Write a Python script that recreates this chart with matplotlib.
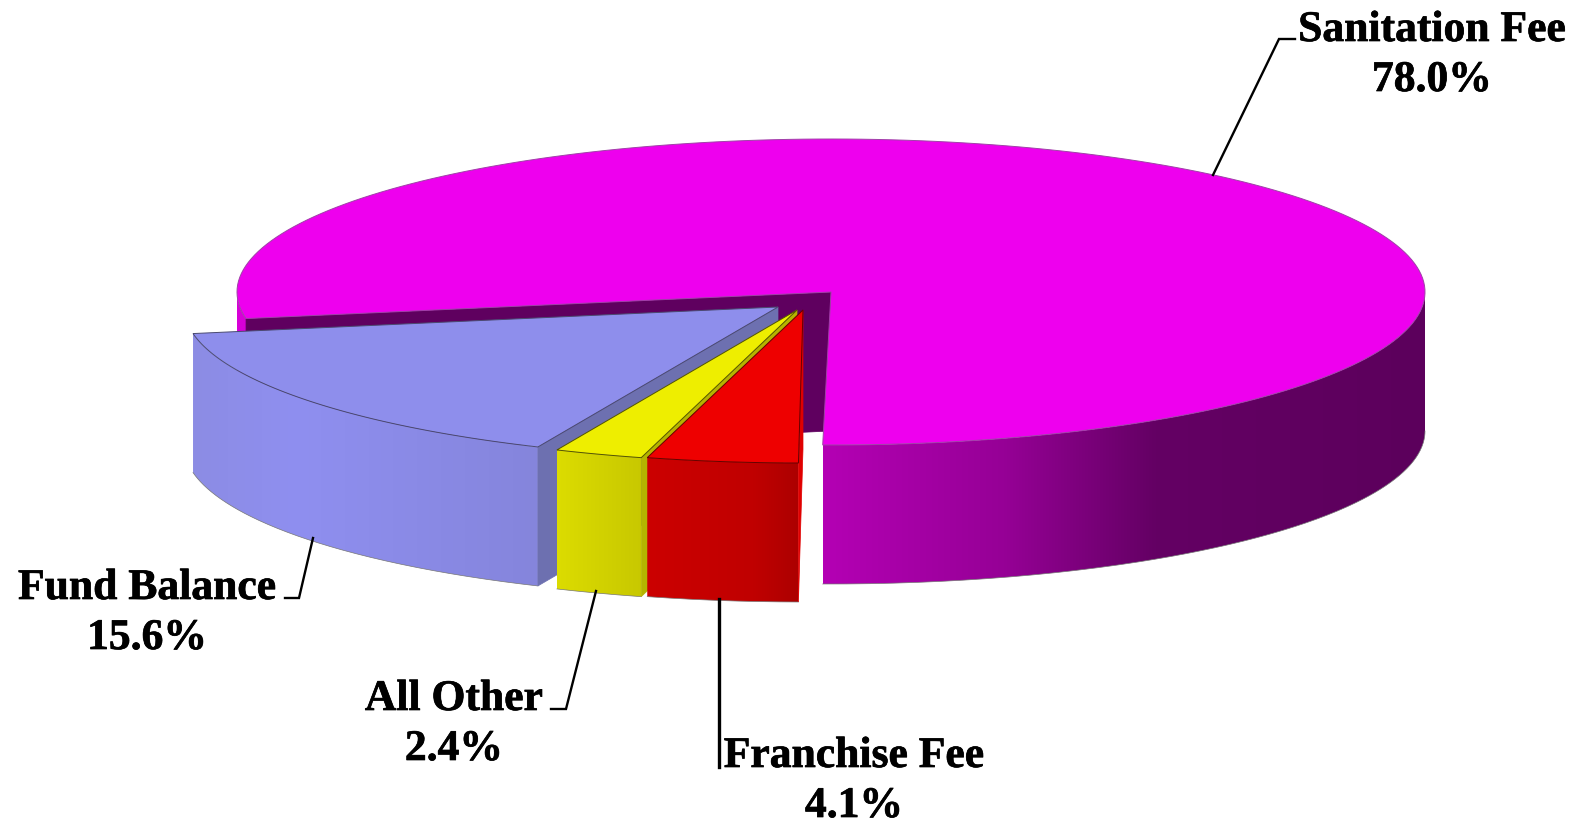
"""Exploded 3D-look pie of revenue shares, drawn by hand on a pixel-sized axes."""
import numpy as np
import matplotlib
matplotlib.use("Agg")
import matplotlib.pyplot as plt
import matplotlib.patheffects as pe
from matplotlib.colors import LinearSegmentedColormap
from matplotlib.patches import Polygon

categories = ["Sanitation Fee", "Fund Balance", "All Other", "Franchise Fee"]
shares = [78.0, 15.6, 2.4, 4.1]
share_labels = ["78.0%", "15.6%", "2.4%", "4.1%"]

# pie projection, in figure pixels
W, H = 1573, 821
RX, RY, DEPTH = 594, 153, 139
START = -90.8
APEX = [(831, 292), (778, 307), (797, 310), (803, 310)]

TOP = ["#ee00ee", "#8e8eec", "#eeee00", "#ee0000"]
FACE = ["#5f005f", "#6d70b0", "#b4b400", "#e00000"]
EDGE = ["#a040a8", "#4a4a70", "#555500", "#660000"]
SIDE = [
    [(0.0, "#b400b4"), (0.3, "#960096"), (0.55, "#640064"), (1.0, "#5c005c")],
    [(0.0, "#8c8ce4"), (0.3, "#8f8ff0"), (1.0, "#8585dc")],
    [(0.0, "#dcdc00"), (1.0, "#c8c800")],
    [(0.0, "#cc0000"), (0.7, "#c00000"), (1.0, "#ac0000")],
]

LABEL_POS = [(1432, 41, 91), (147, 599, 649), (454, 710, 760), (854, 767, 817)]
LEADERS = [
    ([1213, 1279, 1295], [175, 39, 39]),
    ([313, 299, 285], [538, 598, 598]),
    ([596, 566, 551], [591, 709, 709]),
    ([719, 719], [599, 767]),
]


def rim(apex, t0, t1, n=200):
    t = np.radians(np.linspace(t0, t1, n))
    return np.column_stack([apex[0] + RX * np.cos(t), apex[1] - RY * np.sin(t)])


def gradient_side(ax, pts, stops, z):
    cmap = LinearSegmentedColormap.from_list("side", stops)
    x0, x1 = pts[:, 0].min(), pts[:, 0].max()
    y0, y1 = pts[:, 1].min(), pts[:, 1].max()
    img = ax.imshow(np.linspace(0, 1, 256)[None, :], cmap=cmap, aspect="auto",
                    extent=(x0, x1, y1, y0), interpolation="bilinear", zorder=z)
    img.set_clip_path(Polygon(pts, closed=True, transform=ax.transData))


def outer_side(ax, apex, t0, t1, stops, z):
    arc = rim(apex, t0, t1)
    pts = np.vstack([arc, arc[::-1] + [0, DEPTH]])
    gradient_side(ax, pts, stops, z)
    ax.plot(arc[:, 0], arc[:, 1] + DEPTH, color="#777777", lw=0.5, zorder=z)


fig = plt.figure(figsize=(W / 100, H / 100), dpi=100)
ax = fig.add_axes([0, 0, 1, 1])
ax.set_xlim(0, W)
ax.set_ylim(H, 0)
ax.axis("off")

angles = START + np.cumsum([0] + [s * 3.6 for s in shares])

for i, name in enumerate(categories):
    a0, a1 = angles[i], angles[i + 1]
    apex = APEX[i]
    end = rim(apex, a1, a1, 1)[0]
    z = 10 * (i + 1)

    # curved outer wall, only the part turned to the front
    if i == 0:
        outer_side(ax, apex, a0, 0, SIDE[i], z)
        outer_side(ax, apex, 180, a1, [(0, "#d800d8"), (1, "#d800d8")], z)
    else:
        outer_side(ax, apex, a0, a1, SIDE[i], z)

    # cut wall on the side that faces the viewer
    wall = [apex, end, end + [0, DEPTH], (apex[0], apex[1] + DEPTH)]
    ax.add_patch(Polygon(wall, closed=True, fc=FACE[i], ec=FACE[i], lw=0.5, zorder=z + 1))

    top = np.vstack([[apex], rim(apex, a0, a1)])
    ax.add_patch(Polygon(top, closed=True, fc=TOP[i], ec=EDGE[i], lw=0.7, zorder=z + 2))

for (xs, ys) in LEADERS[:-1]:
    ax.plot(xs, ys, color="black", lw=1.7, solid_joinstyle="miter", zorder=60)
ax.plot(*LEADERS[-1], color="black", lw=2.4, zorder=60)

bolder = [pe.withStroke(linewidth=0.5, foreground="black")]
for name, pct, (x, y1, y2) in zip(categories, share_labels, LABEL_POS):
    ax.text(x, y1, name, ha="center", va="baseline", fontsize=31.4, fontweight="bold",
            family="Liberation Serif", color="black", zorder=70, path_effects=bolder)
    ax.text(x, y2, pct, ha="center", va="baseline", fontsize=31.4, fontweight="bold",
            family="Liberation Serif", color="black", zorder=70, path_effects=bolder)

ax.set_xlim(0, W)
ax.set_ylim(H, 0)
fig.savefig("out.png", dpi=100, facecolor="white")
